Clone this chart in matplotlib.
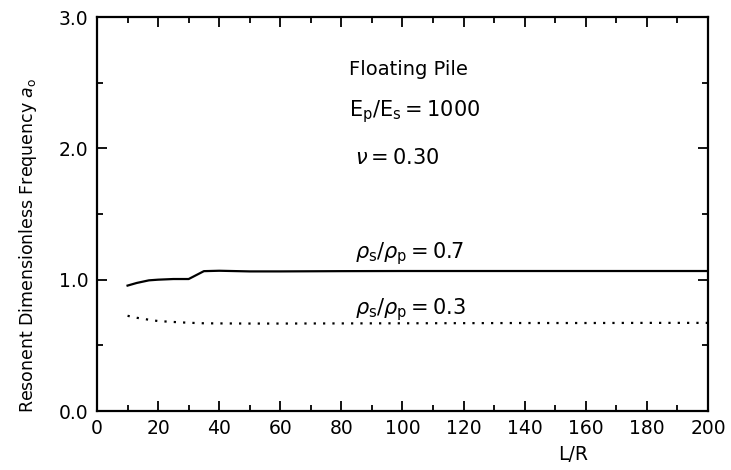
import matplotlib
matplotlib.use("Agg")
import matplotlib.pyplot as plt
from matplotlib.ticker import MultipleLocator

plt.rcParams['font.family'] = ['DejaVu Sans']
plt.rcParams['mathtext.fontset'] = 'dejavusans'

# L/R values and resonant frequency for the two density ratios
lr_07 = [10, 13, 17, 20, 25, 30, 35, 40, 50, 60, 80, 100, 120, 140, 160, 180, 200]
a0_07 = [0.955, 0.975, 0.995, 1.0, 1.005, 1.005, 1.065, 1.068, 1.063, 1.063, 1.065, 1.066, 1.066, 1.066, 1.066, 1.066, 1.066]

lr_03 = [10, 13, 17, 20, 25, 30, 35, 40, 50, 60, 80, 100, 120, 140, 160, 180, 200]
a0_03 = [0.725, 0.71, 0.695, 0.685, 0.678, 0.672, 0.668, 0.667, 0.666, 0.666, 0.667, 0.668, 0.669, 0.67, 0.67, 0.671, 0.671]

fig = plt.figure(figsize=(7.31, 4.70), dpi=100)
ax = fig.add_axes([0.1327, 0.1255, 0.8358, 0.8383])

ax.plot(lr_07, a0_07, color='black', lw=1.6)
ax.plot(lr_03, a0_03, color='black', lw=1.6, linestyle=(0, (1, 3.2)))

ax.set_xlim(0, 200)
ax.set_ylim(0, 3)
ax.xaxis.set_major_locator(MultipleLocator(20))
ax.xaxis.set_minor_locator(MultipleLocator(10))
ax.yaxis.set_major_locator(MultipleLocator(1))
ax.yaxis.set_minor_locator(MultipleLocator(0.5))
ax.yaxis.set_major_formatter(matplotlib.ticker.FormatStrFormatter('%.1f'))

ax.tick_params(which='both', direction='in', top=True, right=True, labelsize=13.5, width=1.3)
ax.tick_params(which='major', length=7, pad=6)
ax.tick_params(which='minor', length=4)
for s in ax.spines.values():
    s.set_linewidth(1.6)

ax.set_ylabel(r'Resonent Dimensionless Frequency $a_\mathsf{o}$', fontsize=12.5)
ax.yaxis.set_label_coords(-0.095, 0.42)
ax.set_xlabel('L/R', fontsize=13.5)
ax.xaxis.set_label_coords(0.78, -0.085)

ax.text(82.5, 2.6, 'Floating Pile', fontsize=14, va='center')
ax.text(82.5, 2.28, r'$\mathsf{E_p/E_s = 1000}$', fontsize=15, va='center')
ax.text(84.5, 1.93, r'$\nu = \mathsf{0.30}$', fontsize=15, va='center')
ax.text(84.5, 1.2, r'$\rho_\mathsf{s}/\rho_\mathsf{p} = \mathsf{0.7}$', fontsize=15, va='center')
ax.text(84.5, 0.77, r'$\rho_\mathsf{s}/\rho_\mathsf{p} = \mathsf{0.3}$', fontsize=15, va='center')

fig.savefig('out.png', dpi=100)
